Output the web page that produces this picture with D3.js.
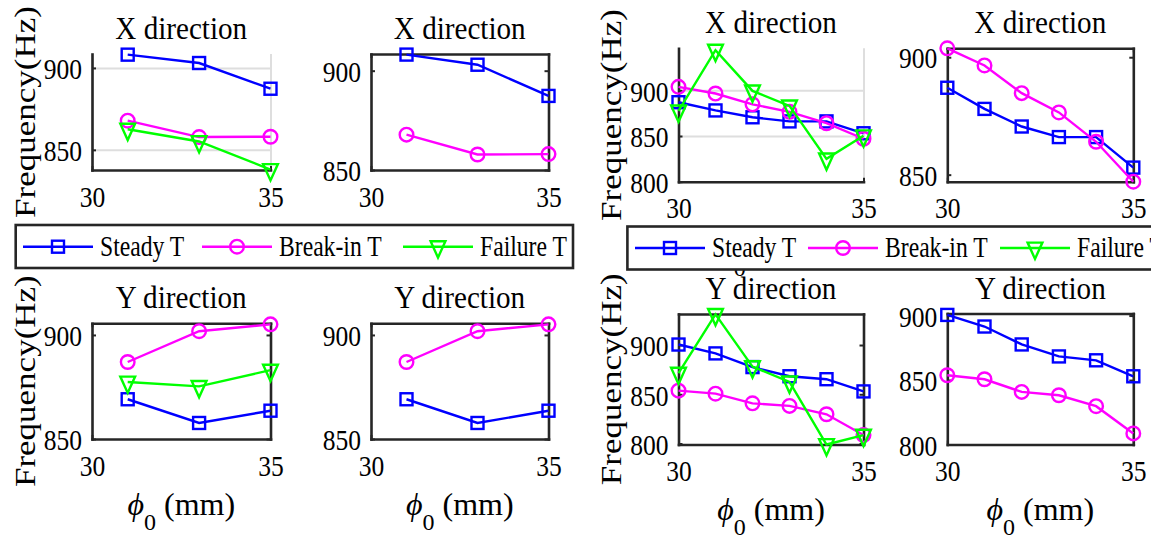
<!DOCTYPE html>
<html>
<head>
<meta charset="utf-8">
<script src="https://cdn.jsdelivr.net/npm/d3@7"></script>
<style>
  body { margin: 0; background: #fff; }
  svg { display: block; }
</style>
</head>
<body>
<svg id="chart" width="1151" height="537"></svg>
<script>
// x = phi_0 (mm), y = natural frequency (Hz)
const xLeft = [31, 33, 35];
const xRight = [30, 31, 32, 33, 34, 35];
const xTicks = [30, 35];

const steadyLeftX  = [908.1, 903.0, 887.3];
const breakinLeftX = [867.8, 857.8, 858.0];
const failureLeftX = [862.6, 855.1, 838.0];
const steadyLeftY  = [869.1, 857.7, 863.6];
const breakinLeftY = [887.0, 901.8, 905.1];
const failureLeftY = [877.4, 875.3, 883.1];

const steadyRightX  = [887.0, 878.0, 870.5, 866.0, 866.0, 853.0];
const breakinRightX = [903.8, 896.5, 884.7, 876.5, 864.0, 847.0];
const failureRightX = [877.5, 944.0, 899.4, 883.0, 825.0, 850.3];
const steadyRightY  = [900.5, 891.5, 877.6, 868.3, 865.3, 852.9];
const breakinRightY = [853.7, 850.6, 840.8, 838.2, 829.7, 808.6];
const failureRightY = [871.4, 931.1, 878.1, 862.5, 799.0, 808.5];

const seriesNames = ["Steady T", "Break-in T", "Failure T"];

const FONT = "'Liberation Serif', 'Times New Roman', serif";
const colors = ["#0000ff", "#ff00ff", "#00ff00"];
const AX = "#262626";
const GRID = "#dedede";
const LW = 2.4;

const svg = d3.select("#chart");

const panels = [
  {title: "X direction", x: xLeft, series: [steadyLeftX, breakinLeftX, failureLeftX],
   ylim: [837.7, 908.5], yticks: [850, 900], grid: true, rect: [92, 54, 270.5, 170], ylabel: true},
  {title: "X direction", x: xLeft, series: [steadyLeftX, breakinLeftX],
   ylim: [850, 908.4], yticks: [850, 900], box: true, rect: [371, 54, 548.5, 170]},
  {title: "Y direction", x: xLeft, series: [steadyLeftY, breakinLeftY, failureLeftY],
   ylim: [850, 905.6], yticks: [850, 900], box: true, rect: [92, 323.3, 270.5, 439], ylabel: true, xlabel: 76},
  {title: "Y direction", x: xLeft, series: [steadyLeftY, breakinLeftY],
   ylim: [850, 905.6], yticks: [850, 900], box: true, rect: [371, 323.3, 548.5, 439], xlabel: 76},
  {title: "X direction", x: xRight, series: [steadyRightX, breakinRightX, failureRightX],
   ylim: [800, 946], yticks: [800, 850, 900], grid: true, rect: [678.5, 48.3, 863.5, 181.7], ylabel: true, xlabel: 79},
  {title: "X direction", x: xRight, series: [steadyRightX, breakinRightX],
   ylim: [847, 903.8], yticks: [850, 900], box: true, rect: [947.3, 48.3, 1133.3, 181.7]},
  {title: "Y direction", x: xRight, series: [steadyRightY, breakinRightY, failureRightY],
   ylim: [799, 931.5], yticks: [800, 850, 900], box: true, rect: [678.5, 314, 863.5, 444.5], ylabel: true, xlabel: 75},
  {title: "Y direction", x: xRight, series: [steadyRightY, breakinRightY],
   ylim: [800, 901.6], yticks: [800, 850, 900], box: true, rect: [947.3, 313.5, 1133.3, 444.5], xlabel: 75}
];

function label(g, x, y, str, size, sx, anchor) {
  return g.append("text")
    .attr("transform", `translate(${x},${y}) scale(${sx},1)`)
    .attr("text-anchor", anchor || "middle")
    .style("font-family", FONT)
    .style("font-size", size + "px")
    .attr("fill", "#000")
    .text(str);
}

function marker(sel, k) {
  let m;
  if (k === 0) m = sel.append("rect").attr("x", -6).attr("y", -6).attr("width", 12).attr("height", 12);
  else if (k === 1) m = sel.append("circle").attr("r", 6.8);
  else m = sel.append("path").attr("d", "M-7.4,-5.4L7.4,-5.4L0,10.9Z");
  m.attr("fill", "none").attr("stroke", colors[k]).attr("stroke-width", LW);
}

function styleAxis(a) {
  a.attr("font-family", FONT).attr("font-size", null);
  a.select(".domain").attr("stroke", AX).attr("stroke-width", 2.6).attr("stroke-linecap", "square");
  a.selectAll(".tick line").attr("stroke", AX).attr("stroke-width", 2);
  a.selectAll(".tick text").attr("fill", "#000").style("font-size", "29px");
}

function drawPanel(p) {
  const [x0, y0, x1, y1] = p.rect;
  const xs = d3.scaleLinear().domain([30, 35]).range([x0, x1]);
  const ys = d3.scaleLinear().domain(p.ylim).range([y1, y0]);
  const g = svg.append("g");

  if (p.grid) {
    g.append("g").attr("transform", `translate(${x0},0)`)
      .call(d3.axisLeft(ys).tickValues(p.yticks).tickSize(-(x1 - x0)).tickFormat(""))
      .call(a => a.select(".domain").remove())
      .selectAll("line").attr("stroke", GRID).attr("stroke-width", 2);
    g.append("g").attr("transform", `translate(0,${y1})`)
      .call(d3.axisBottom(xs).tickValues(xTicks).tickSize(-(y1 - y0)).tickFormat(""))
      .call(a => a.select(".domain").remove())
      .selectAll("line").attr("stroke", GRID).attr("stroke-width", 2);
  }

  if (p.box) {
    g.append("g").attr("transform", `translate(${x1},0)`)
      .call(d3.axisRight(ys).tickValues(p.yticks).tickSizeInner(-4).tickSizeOuter(0).tickFormat(""))
      .call(styleAxis);
    g.append("g").attr("transform", `translate(0,${y0})`)
      .call(d3.axisTop(xs).tickValues(xTicks).tickSizeInner(-4).tickSizeOuter(0).tickFormat(""))
      .call(styleAxis);
  }

  g.append("g").attr("transform", `translate(${x0},0)`)
    .call(d3.axisLeft(ys).tickValues(p.yticks).tickSizeInner(-4).tickSizeOuter(0).tickFormat(d3.format("d")))
    .call(styleAxis)
    .selectAll(".tick text")
      .attr("x", null).attr("dy", "0.37em")
      .attr("transform", "translate(-10,0) scale(0.88,1)");

  g.append("g").attr("transform", `translate(0,${y1})`)
    .call(d3.axisBottom(xs).tickValues(xTicks).tickSizeInner(-4).tickSizeOuter(0).tickPadding(16).tickFormat(d3.format("d")))
    .call(styleAxis)
    .selectAll(".tick text")
      .attr("transform", "scale(0.88,1)");

  p.series.forEach((vals, k) => {
    const pts = p.x.map((xv, i) => [xs(xv), ys(vals[i])]);
    g.append("path")
      .attr("d", d3.line()(pts))
      .attr("fill", "none")
      .attr("stroke", colors[k])
      .attr("stroke-width", LW);
    g.selectAll(null).data(pts).join("g")
      .attr("transform", d => `translate(${d[0]},${d[1]})`)
      .each(function() { marker(d3.select(this), k); });
  });

  label(g, (x0 + x1) / 2, y0 - 15, p.title, 31, 0.94);

  if (p.ylabel) {
    g.append("text")
      .attr("transform", `translate(${x0 - 57.5},${(y0 + y1) / 2}) scale(0.85,1) rotate(-90)`)
      .attr("text-anchor", "middle")
      .style("font-family", FONT).style("font-size", "35px")
      .text("Frequency(Hz)");
  }

  if (p.xlabel) {
    const t = g.append("text")
      .attr("x", (x0 + x1) / 2).attr("y", y1 + p.xlabel)
      .attr("text-anchor", "middle")
      .style("font-family", FONT).style("font-size", "32px");
    t.append("tspan").style("font-style", "italic").text("\u03D5");
    t.append("tspan").attr("dy", 15).style("font-size", "24px").text("0");
    t.append("tspan").attr("dy", -15).text(" (mm)");
  }
}

function drawLegend(box, starts, lineY) {
  const g = svg.append("g");
  g.append("rect")
    .attr("x", box[0]).attr("y", box[1])
    .attr("width", box[2] - box[0]).attr("height", box[3] - box[1])
    .attr("fill", "#fff").attr("stroke", AX).attr("stroke-width", 2.6);
  seriesNames.forEach((name, k) => {
    const s = starts[k];
    g.append("line")
      .attr("x1", s).attr("x2", s + 70).attr("y1", lineY).attr("y2", lineY)
      .attr("stroke", colors[k]).attr("stroke-width", LW);
    marker(g.append("g").attr("transform", `translate(${s + 35},${lineY})`), k);
    label(g, s + 77, lineY + 9, name, 28.5, 0.83, "start");
  });
}

panels.forEach(drawPanel);
drawLegend([15.7, 225, 573, 268], [23, 202, 403], 246.7);
drawLegend([627.4, 226.5, 1170, 269.5], [635, 808, 1000], 248);
</script>
</body>
</html>
